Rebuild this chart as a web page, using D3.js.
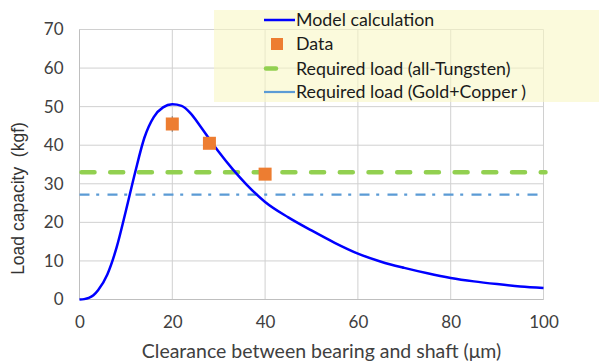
<!DOCTYPE html>
<html><head><meta charset="utf-8">
<script src="https://cdn.jsdelivr.net/npm/d3@7"></script>
<style>body{margin:0;background:#fff}svg{display:block}</style>
</head><body><svg id="c" width="599" height="361"></svg>
<script>
const xTicks = [0, 20, 40, 60, 80, 100];
const yTicks = [0, 10, 20, 30, 40, 50, 60, 70];
const modelX = [0, 1, 2, 3, 4, 6, 8, 10, 12, 14, 16, 18, 20, 22, 24, 26, 28, 30, 33, 36, 40, 45, 50, 55, 60, 65, 70, 75, 80, 85, 90, 95, 100];
const modelY = [0, 0.1, 0.4, 1.1, 2.4, 6.5, 13.5, 23.0, 33.0, 42.0, 47.3, 49.8, 50.6, 50.2, 48.2, 45.0, 41.6, 38.3, 33.8, 29.8, 25.3, 21.3, 17.9, 14.7, 11.9, 9.8, 8.2, 6.8, 5.6, 4.7, 4.0, 3.4, 3.0];
const dataX = [20, 28, 40];
const dataY = [45.5, 40.5, 32.5];
const dataErr = [2.0, 0, 0];
const tungstenLoad = 33;
const goldCopperLoad = 27.2;
const legendLabels = ["Model calculation", "Data", "Required load (all-Tungsten)", "Required load (Gold+Copper )"];

const svg = d3.select("#c");
const x = d3.scaleLinear().domain([0, 100]).range([79.5, 543.5]);
const y = d3.scaleLinear().domain([0, 70]).range([299.5, 29.5]);
const font = "Lato, 'Open Sans', sans-serif";

// grid
const g = svg.append("g");
g.selectAll(".hg").data(yTicks).join("line")
  .attr("x1", x(0)).attr("x2", x(100)).attr("y1", d => y(d)).attr("y2", d => y(d))
  .attr("stroke", "#d0d0d0").attr("stroke-width", 1);
g.selectAll(".vg").data(xTicks).join("line")
  .attr("y1", y(0)).attr("y2", y(70)).attr("x1", d => x(d)).attr("x2", d => x(d))
  .attr("stroke", "#d0d0d0").attr("stroke-width", 1);
g.append("line").attr("x1", x(0)).attr("x2", x(100)).attr("y1", y(0)).attr("y2", y(0)).attr("stroke", "#bfbfbf");
g.append("line").attr("x1", x(0)).attr("x2", x(0)).attr("y1", y(0)).attr("y2", y(70)).attr("stroke", "#bfbfbf");

// axes labels via d3 axes
const xAxis = svg.append("g").attr("transform", `translate(0,${y(0)})`)
  .call(d3.axisBottom(x).tickValues(xTicks).tickSize(0).tickPadding(16));
const yAxis = svg.append("g").attr("transform", `translate(${x(0)},0)`)
  .call(d3.axisLeft(y).tickValues(yTicks).tickSize(0).tickPadding(16));
[xAxis, yAxis].forEach(a => {
  a.select(".domain").remove();
  a.selectAll("text").attr("font-family", font).attr("font-size", 17).attr("fill", "#404040");
});

// reference lines
svg.append("line").attr("x1", x(0)).attr("x2", x(100)).attr("y1", y(tungstenLoad)).attr("y2", y(tungstenLoad))
  .attr("stroke", "#92d050").attr("stroke-width", 4.5).attr("stroke-dasharray", "13,15.7")
  .attr("stroke-linecap", "round").attr("transform", "translate(2,0)");
svg.append("line").attr("x1", x(0)).attr("x2", x(100) - 2).attr("y1", y(goldCopperLoad)).attr("y2", y(goldCopperLoad))
  .attr("stroke", "#5b9bd5").attr("stroke-width", 2.2).attr("stroke-dasharray", "10,6.7,3,8.3");

// model curve
const pts = modelX.map((v, i) => [v, modelY[i]]);
svg.append("path").datum(pts)
  .attr("d", d3.line().x(d => x(d[0])).y(d => y(d[1])).curve(d3.curveMonotoneX))
  .attr("fill", "none").attr("stroke", "#0000ff").attr("stroke-width", 2.5);

// data
const dat = dataX.map((v, i) => ({x: v, y: dataY[i], e: dataErr[i]}));
svg.selectAll(".eb").data(dat.filter(d => d.e > 0)).join("line")
  .attr("x1", d => x(d.x)).attr("x2", d => x(d.x)).attr("y1", d => y(d.y - d.e)).attr("y2", d => y(d.y + d.e))
  .attr("stroke", "#808080").attr("stroke-width", 1.2);
svg.selectAll(".pt").data(dat).join("rect")
  .attr("x", d => x(d.x) - 6.5).attr("y", d => y(d.y) - 6.5).attr("width", 13).attr("height", 13)
  .attr("fill", "#ed7d31");

// legend
const lg = svg.append("g");
lg.append("rect").attr("x", 214).attr("y", 10).attr("width", 400).attr("height", 92)
  .attr("fill", "#f8f6c4").attr("fill-opacity", 0.6);
const rowY = [20, 44, 68.5, 92];
lg.append("line").attr("x1", 264).attr("x2", 295).attr("y1", rowY[0]).attr("y2", rowY[0]).attr("stroke", "#0000ff").attr("stroke-width", 2.5);
lg.append("rect").attr("x", 271).attr("y", rowY[1] - 6).attr("width", 12).attr("height", 12).attr("fill", "#ed7d31");
lg.append("line").attr("x1", 266).attr("x2", 276).attr("y1", rowY[2]).attr("y2", rowY[2]).attr("stroke", "#92d050").attr("stroke-width", 4.5).attr("stroke-linecap", "round");
lg.append("line").attr("x1", 264).attr("x2", 295).attr("y1", rowY[3]).attr("y2", rowY[3]).attr("stroke", "#5b9bd5").attr("stroke-width", 2.2);
lg.selectAll("text").data(legendLabels).join("text")
  .attr("x", 296).attr("y", (d, i) => rowY[i]).attr("dy", "0.35em")
  .attr("font-family", font).attr("font-size", 17.8).attr("fill", "#1a1a1a").text(d => d);

// axis titles
svg.append("text").attr("x", 321.5).attr("y", 358).attr("text-anchor", "middle")
  .attr("font-family", font).attr("font-size", 19.5).attr("fill", "#404040")
  .text("Clearance between bearing and shaft (μm)");
svg.append("text").attr("transform", `translate(18,198.5) rotate(-90)`).attr("dy", "0.35em").attr("text-anchor", "middle")
  .attr("font-family", "'Liberation Sans', Arial, sans-serif").attr("font-size", 17.5).attr("fill", "#333333")
  .style("white-space", "pre")
  .text("Load capacity  (kgf)");
</script></body></html>
